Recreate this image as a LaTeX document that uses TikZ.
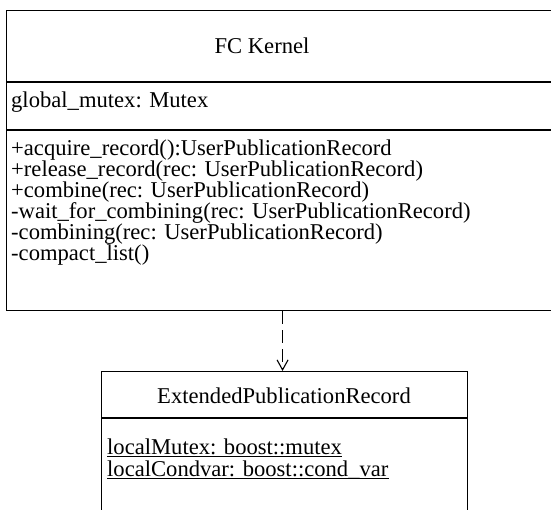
\documentclass[tikz,border=0pt]{standalone}
\usepackage{fontspec}
\setmainfont{Liberation Serif}
\usetikzlibrary{arrows.meta,positioning}

\tikzset{
  umlbox/.style={draw, line width=1.1pt, inner sep=0pt, anchor=north west},
  umlline/.style={line width=1.1pt},
  umltext/.style={inner sep=0pt, anchor=base west, font=\fontsize{22.6}{21}\selectfont},
  umltitle/.style={inner sep=0pt, anchor=base, font=\fontsize{22.6}{21}\selectfont},
  depends/.style={->, line width=1.1pt, dash pattern=on 13pt off 6pt},
}

\begin{document}
\begin{tikzpicture}[x=1pt, y=-1pt, >={Straight Barb[length=10pt,width=11pt]}]

  % --- picture frame (the class boxes run past it) ---
  \useasboundingbox (0,0) rectangle (551,509);
  \clip (0,0) rectangle (551,509);

  % --- FC Kernel class ---
  \node[umlbox, minimum width=620pt, minimum height=300pt] (kernel) at (6,10) {};
  \draw[umlline] ([yshift=-72pt]kernel.north west) -- ([yshift=-72pt]kernel.north east);
  \draw[umlline] ([yshift=-120pt]kernel.north west) -- ([yshift=-120pt]kernel.north east);

  \node[umltitle] (kname) at (262,53) {FC Kernel};
  \node[umltext] (kattr) at (11,107) {global\_mutex: Mutex};

  % operations
  \node[umltext] (op1) at (11,155) {+acquire\_record():UserPublicationRecord};
  \node[umltext] (op2) at (11,176) {+release\_record(rec: UserPublicationRecord)};
  \node[umltext] (op3) at (11,197) {+combine(rec: UserPublicationRecord)};
  \node[umltext] (op4) at (11,218) {-wait\_for\_combining(rec: UserPublicationRecord)};
  \node[umltext] (op5) at (11,239) {-combining(rec: UserPublicationRecord)};
  \node[umltext] (op6) at (11,260) {-compact\_list()};

  % --- ExtendedPublicationRecord class ---
  \node[umlbox, minimum width=366pt, minimum height=170pt] (record) at (101,371) {};
  \draw[umlline] ([yshift=-47pt]record.north west) -- ([yshift=-47pt]record.north east);

  \node[umltitle] (rname) at (284,403) {ExtendedPublicationRecord};

  % static attributes (underlined)
  \node[umltext] (rattr1) at (107,454) {localMutex: boost::mutex};
  \node[umltext] (rattr2) at (107,476) {localCondvar: boost::cond\_var};
  \draw[line width=0.8pt] ([yshift=-2.5pt]rattr1.base west) -- ([yshift=-2.5pt]rattr1.base east);
  \draw[line width=0.8pt] ([yshift=-2.5pt]rattr2.base west) -- ([yshift=-2.5pt]rattr2.base east);

  % --- dependency ---
  \draw[depends] ([xshift=-2pt]record.north |- kernel.south) -- ([xshift=-2pt]record.north);

\end{tikzpicture}
\end{document}
